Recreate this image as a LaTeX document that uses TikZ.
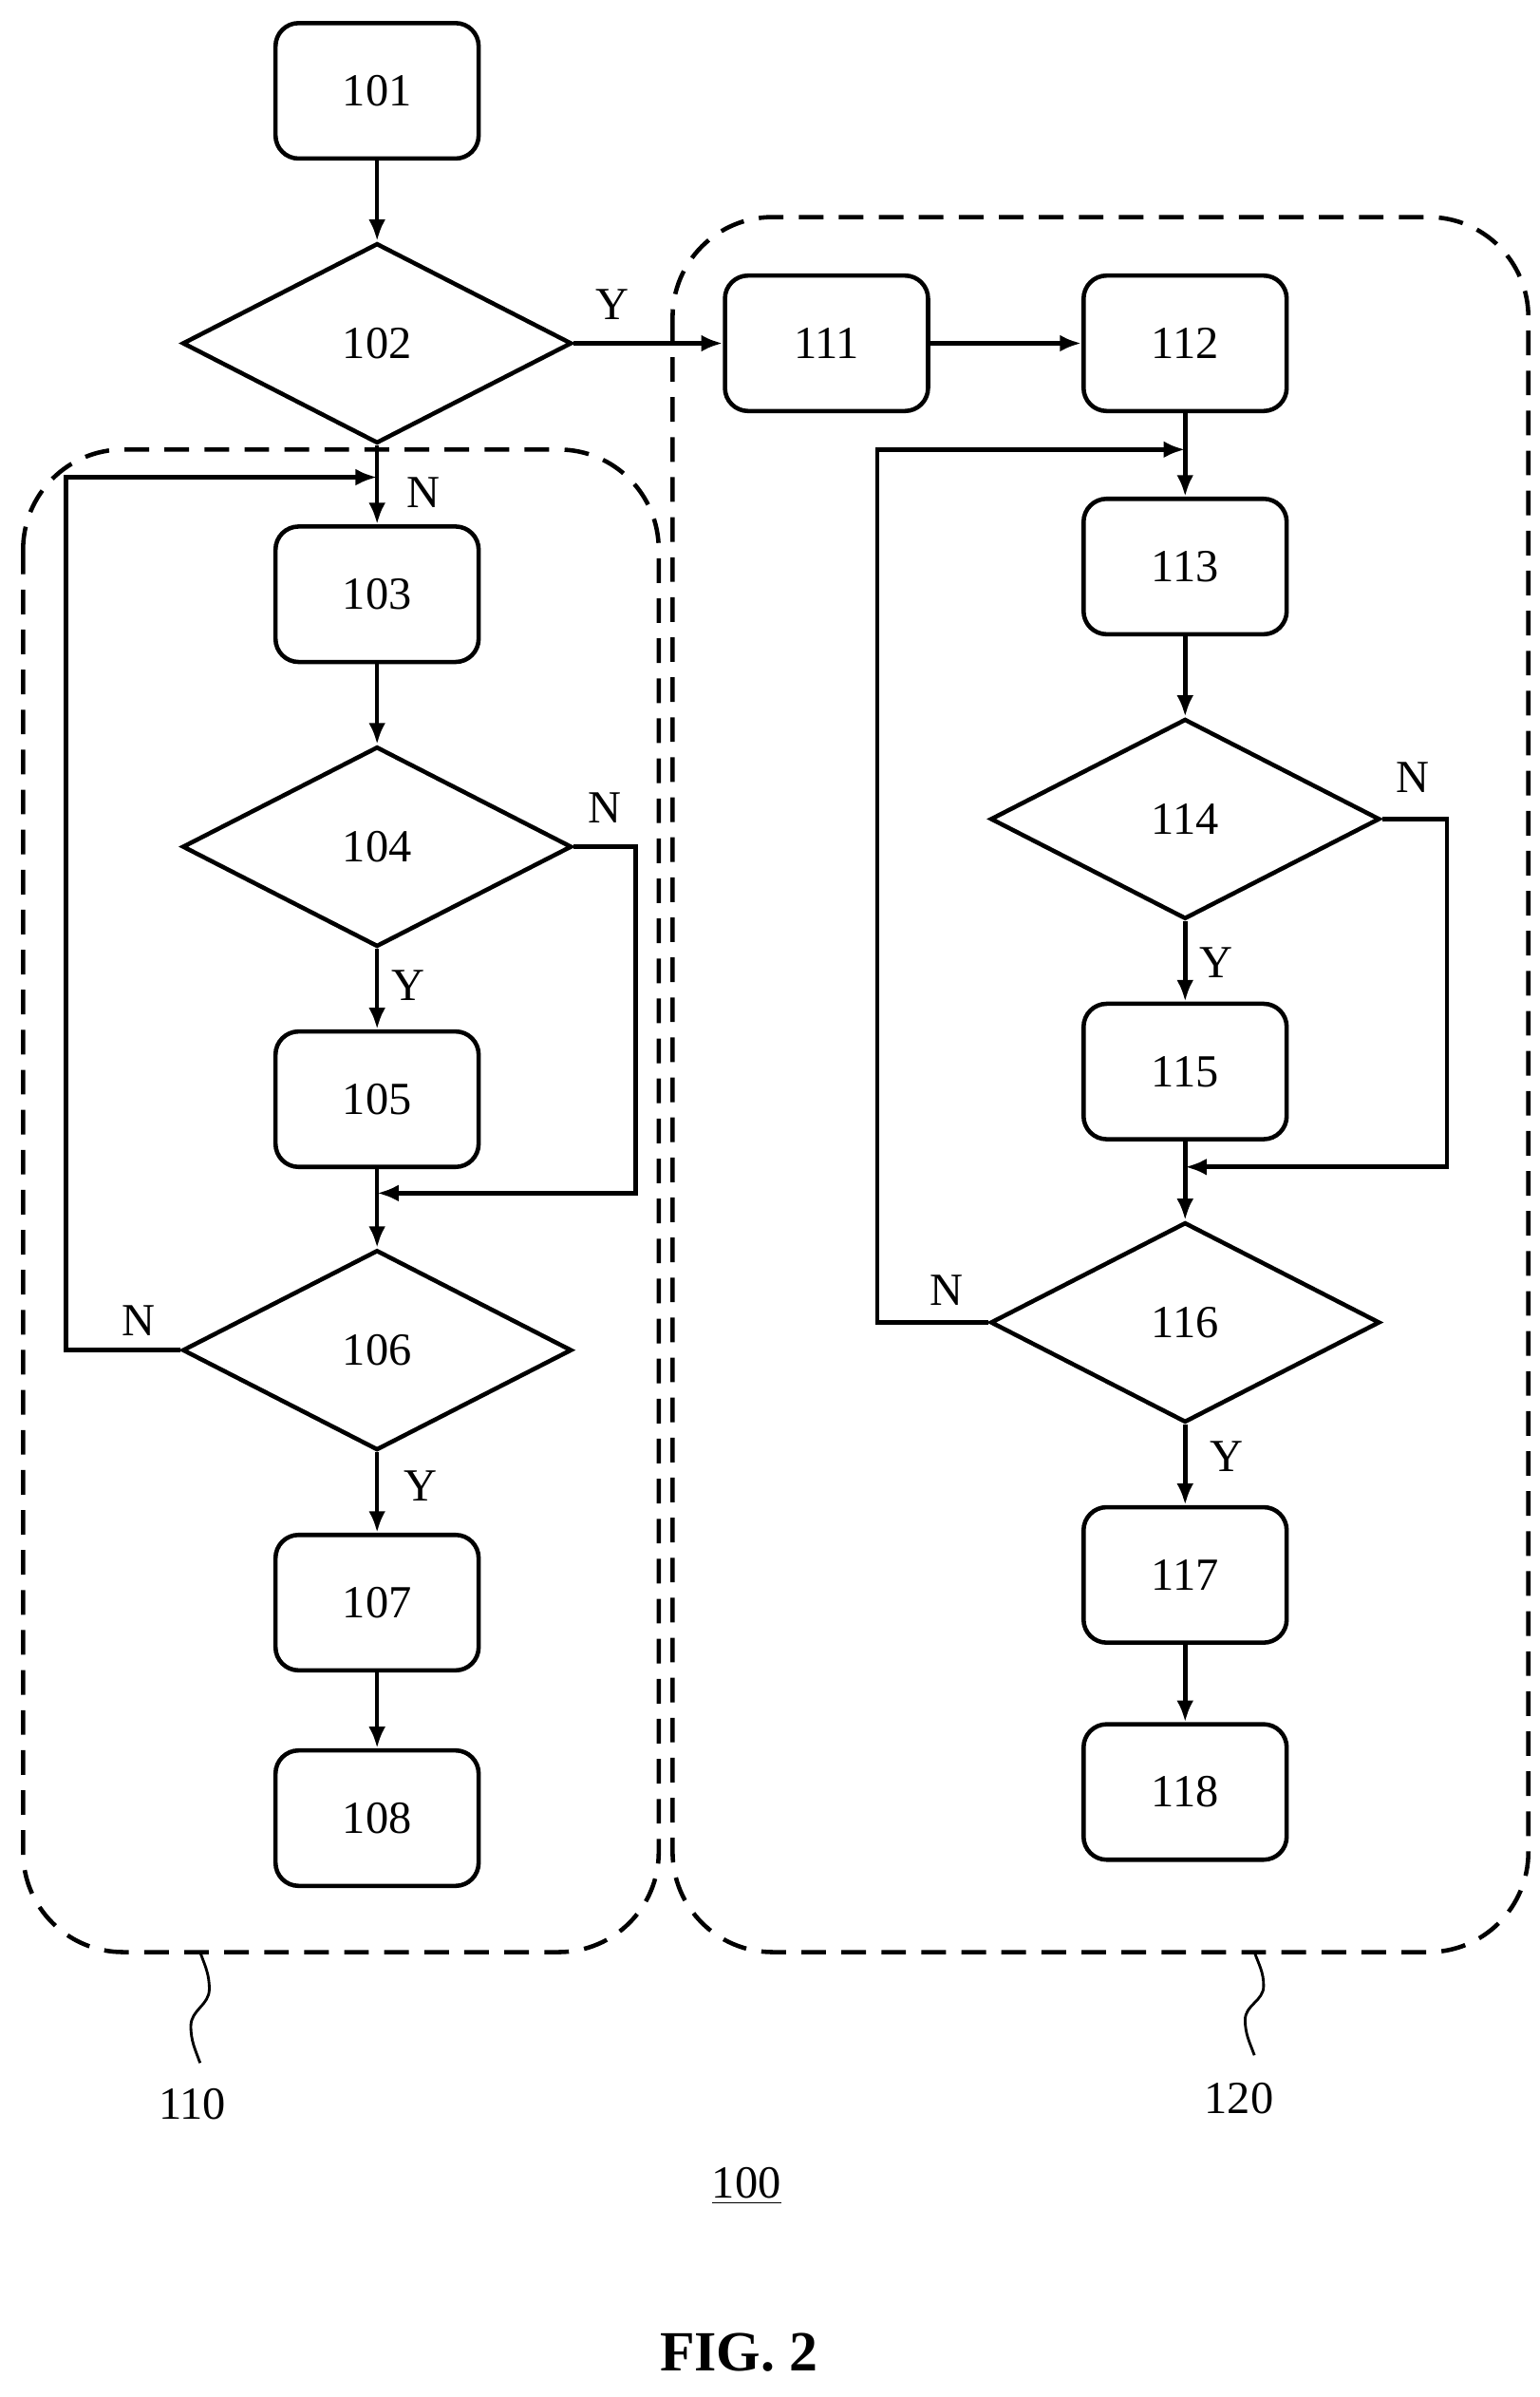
\documentclass[tikz,border=0pt]{standalone}
\usepackage{fontspec}
\setmainfont{Liberation Serif}
\usetikzlibrary{arrows.meta,shapes.geometric}
\tikzset{%
  >={Latex[width=2.2mm,length=2.8mm]},
  % node styles
  base/.style = {draw=black, line width=1.6pt, inner sep=0pt,
                 font=\fontsize{17}{20}\selectfont},
  proc/.style = {base, rectangle, rounded corners=3mm,
                 minimum width=2.64cm, minimum height=1.76cm},
  test/.style = {base, diamond, minimum width=5.06cm, minimum height=2.6cm},
  lab/.style  = {font=\fontsize{17}{20}\selectfont},
  flow/.style = {->, line width=1.6pt},
  region/.style = {draw, line width=1.6pt, dash pattern=on 3.2mm off 2mm,
                   rounded corners=1.3cm},
}
\begin{document}
\begin{tikzpicture}[x=0.02cm, y=-0.02cm]
  \useasboundingbox (0,0) rectangle (1000,1557);

  % regions
  \draw[region] (15,292) rectangle (428,1268);
  \draw[region] (437,141) rectangle (993,1268);

  % left column
  \node (n101) [proc] at (245,59)   {101};
  \node (n102) [test] at (245,223)  {102};
  \node (n103) [proc] at (245,386)  {103};
  \node (n104) [test] at (245,550)  {104};
  \node (n105) [proc] at (245,714)  {105};
  \node (n106) [test] at (245,877)  {106};
  \node (n107) [proc] at (245,1041) {107};
  \node (n108) [proc] at (245,1181) {108};

  % right column
  \node (n111) [proc] at (537,223)  {111};
  \node (n112) [proc] at (770,223)  {112};
  \node (n113) [proc] at (770,368)  {113};
  \node (n114) [test] at (770,532)  {114};
  \node (n115) [proc] at (770,696)  {115};
  \node (n116) [test] at (770,859)  {116};
  \node (n117) [proc] at (770,1023) {117};
  \node (n118) [proc] at (770,1164) {118};

  \coordinate (j103) at (245,310);
  \coordinate (j106) at (245,775);
  \coordinate (j113) at (770,292);
  \coordinate (j116) at (770,758);

  % connectors, left
  \draw[flow] (n101) -- (n102);
  \draw[flow] (n102) -- (n103);
  \draw[flow] (n103) -- (n104);
  \draw[flow] (n104) -- (n105);
  \draw[line width=1.6pt] (n105) -- (j106);
  \draw[flow] (n104.east) -| (413,775) -- (j106);
  \draw[flow] (j106) -- (n106);
  \draw[flow] (n106.west) -| (43,310) -- (j103);
  \draw[flow] (n106) -- (n107);
  \draw[flow] (n107) -- (n108);

  % connectors, right
  \draw[flow] (n102) -- (n111);
  \draw[flow] (n111) -- (n112);
  \draw[flow] (n112) -- (n113);
  \draw[flow] (n113) -- (n114);
  \draw[flow] (n114) -- (n115);
  \draw[line width=1.6pt] (n115) -- (j116);
  \draw[flow] (n114.east) -| (940,758) -- (j116);
  \draw[flow] (j116) -- (n116);
  \draw[flow] (n116.west) -| (570,292) -- (j113);
  \draw[flow] (n116) -- (n117);
  \draw[flow] (n117) -- (n118);

  % Y / N labels
  \node[lab] at (275,320) {N};
  \node[lab] at (393,525) {N};
  \node[lab] at (265,640) {Y};
  \node[lab] at (90,858)  {N};
  \node[lab] at (273,965) {Y};
  \node[lab] at (398,198) {Y};
  \node[lab] at (918,505) {N};
  \node[lab] at (790,625) {Y};
  \node[lab] at (615,838) {N};
  \node[lab] at (797,946) {Y};

  % leaders
  \draw[line width=1pt] (130,1268) to[out=-70,in=90] (136,1292)
    to[out=-90,in=90] (124,1316) to[out=-90,in=110] (130,1340);
  \draw[line width=1pt] (815,1268) to[out=-70,in=90] (821,1290)
    to[out=-90,in=90] (809,1312) to[out=-90,in=110] (815,1335);
  \node (n110) [lab] at (125,1367) {110};
  \node (n120) [lab] at (805,1363) {120};
  \node (n100) [lab] at (485,1420) {\underline{100}};
  \node (fig)  [lab, font=\fontsize{21}{25}\selectfont\bfseries] at (480,1528) {FIG. 2};
\end{tikzpicture}
\end{document}
